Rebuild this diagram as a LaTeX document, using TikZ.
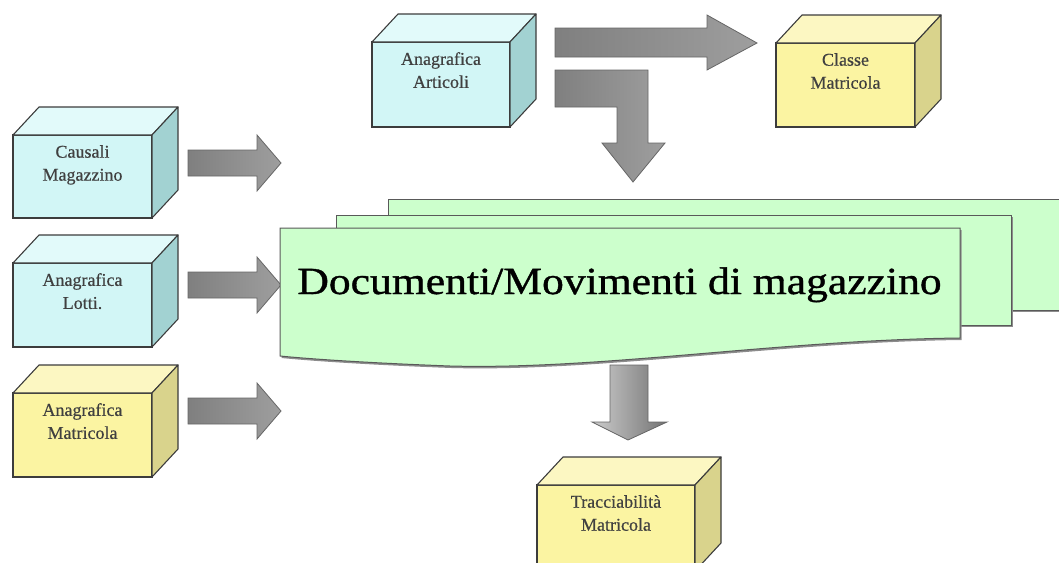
\documentclass[tikz,border=0pt]{standalone}
\usepackage{fontspec}
\setmainfont{Liberation Serif}
\newfontfamily\docfont[FakeBold=0.9]{Liberation Serif}
\newfontfamily\smallfont[FakeBold=0.5]{Liberation Serif}
\definecolor{frontC}{HTML}{D2F6F6}
\definecolor{topC}{HTML}{E2FAFA}
\definecolor{sideC}{HTML}{A2D2D2}
\definecolor{frontY}{HTML}{FBF4A2}
\definecolor{topY}{HTML}{FCF7C2}
\definecolor{sideY}{HTML}{D9D38C}
\definecolor{sheetG}{HTML}{CCFFCC}
\definecolor{edge}{HTML}{3C3C3C}
\tikzset{
  boxfront/.style={draw=edge, line width=1.1pt, fill=front#1, outer sep=0pt, inner sep=0pt},
  boxtop/.style={draw=edge, line width=1.1pt, fill=top#1, line join=round},
  boxside/.style={draw=edge, line width=1.1pt, fill=side#1, line join=round},
  boxtext/.style={font=\smallfont\fontsize{18}{23}\selectfont, text=black!75, align=center, inner sep=0pt},
  sheet/.style={draw=black!65, line width=1pt, fill=sheetG},
  sheetshadow/.style={fill=black!45, draw=none},
  blockarrow/.style={draw=black!60, line width=0.8pt, left color=black!50, middle color=black!15, right color=black!38, line join=miter},
  vblockarrow/.style={draw=black!60, line width=0.8pt, left color=black!20, middle color=black!12, right color=black!55, line join=miter}
}
\newcommand\cuboid[7]{%
  \node[boxfront=#6, minimum width=#4pt, minimum height=#5pt, anchor=north west] (#1) at (#2,#3) {};
  \draw[boxtop=#6] (#1.north west) -- ++(26,-28) -- ([shift={(26,-28)}]#1.north east) -- (#1.north east) -- cycle;
  \draw[boxside=#6] (#1.north east) -- ([shift={(26,-28)}]#1.north east) -- ([shift={(26,-28)}]#1.south east) -- (#1.south east) -- cycle;
  \node[boxtext, anchor=north] (#1t) at ([yshift=-10pt]#1.north) {#7};
}
\newcommand\harrow[2]{%
  \path[blockarrow] (188,{#2-13}) -- (257,{#2-13}) -- (257,{#2-28}) -- (281,#2) -- (257,{#2+28}) -- (257,{#2+13}) -- (188,{#2+13}) -- cycle;
  \coordinate (#1) at (281,#2);
}
\begin{document}
\begin{tikzpicture}[x=1pt,y=-1pt]
\useasboundingbox (0,0) rectangle (1059,562);
\clip (0,0) rectangle (1059,562);

% left cuboids
\cuboid{causali}{13}{135}{139}{83}{C}{Causali\\Magazzino}
\cuboid{lotti}{13}{263}{139}{84}{C}{Anagrafica\\Lotti.}
\cuboid{anamat}{13}{393}{139}{84}{Y}{Anagrafica\\Matricola}
% top cuboids
\cuboid{articoli}{372}{42}{138}{85}{C}{Anagrafica\\Articoli}
\cuboid{classe}{776}{43}{139}{84}{Y}{Classe\\Matricola}
% bottom cuboid
\cuboid{tracc}{537}{485}{158}{86}{Y}{Tracciabilità\\Matricola}

% left arrows
\harrow{a1}{163}
\harrow{a2}{285}
\harrow{a3}{411}

% top right arrow
\path[blockarrow] (555,28) -- (707,28) -- (707,15) -- (757,43) -- (707,70) -- (707,57) -- (555,57) -- cycle;
% L-shaped arrow
\path[blockarrow] (555,70) -- (648,70) -- (648,143) -- (665,143) -- (633,182) -- (602,143) -- (617,143) -- (617,107) -- (555,107) -- cycle;
% bottom arrow
\path[vblockarrow] (610,365) -- (648,365) -- (648,422) -- (667,422) -- (628,440) -- (592,422) -- (610,422) -- cycle;

% document stack
\fill[sheetshadow] (390,201) rectangle (1070,312);
\path[sheet] (388,199) rectangle (1070,310);
\fill[sheetshadow] (337,217) rectangle (1013,327);
\path[sheet] (336,215) rectangle (1011,325);
\fill[sheetshadow, shift={(1.5,2)}] (280,228) -- (960,228) -- (960,338) .. controls (780,340) and (600,370) .. (450,366) .. controls (370,363) and (310,359) .. (280,356) -- cycle;
\path[sheet] (280,228) -- (960,228) -- (960,338) .. controls (780,340) and (600,370) .. (450,366) .. controls (370,363) and (310,359) .. (280,356) -- cycle;
\node[font=\docfont\fontsize{43.6}{50}\selectfont, anchor=base, inner sep=0pt] (doc) at (619.5,294) {\scalebox{1}[0.88]{Documenti/Movimenti di magazzino}};
\end{tikzpicture}
\end{document}
